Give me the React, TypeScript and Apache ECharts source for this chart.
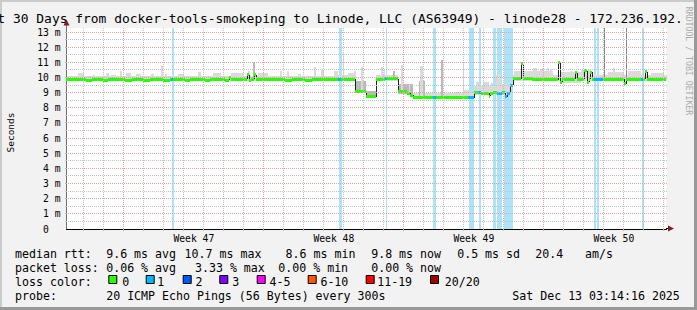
import React, { useEffect, useRef } from 'react';
import * as echarts from 'echarts';

const FONT = "'DejaVu Sans Mono', monospace";
const Y_MAX = 13.27;
const DAYS = 30;
const FIRST_MIDNIGHT = 0.865; // Nov 14 00:00, in days after the window start
const FIRST_WEEK_LINE = 2.865; // Sun Nov 16 00:00

const TITLE = 'Last 30 Days from docker-tools-smokeping to Linode, LLC (AS63949) - linode28 - 172.236.192.';
const WEEK_LABELS = ['Week 47', 'Week 48', 'Week 49', 'Week 50'];
const WEEK_CENTERS = [6.365, 13.365, 20.365, 27.365];
const Y_TICKS = [0, 1, 2, 3, 4, 5, 6, 7, 8, 9, 10, 11, 12, 13];

// median rtt steps: [start day, ms, loss class]
const MEDIAN_STEPS: [number, number, number][] = [
  [0, 9.88, 0], [1.0, 9.82, 0], [1.3, 9.88, 0], [1.85, 9.82, 0], [2.1, 9.88, 0], [2.95, 9.82, 0],
  [3.3, 9.88, 0], [3.85, 9.82, 0], [4.2, 9.88, 0], [4.85, 9.82, 0], [5.2, 9.88, 0], [5.25, 9.88, 1],
  [5.35, 9.88, 0], [5.95, 9.82, 0], [6.2, 9.88, 0], [6.95, 9.82, 0], [7.2, 9.88, 0], [7.95, 9.82, 0],
  [8.15, 9.97, 0], [8.25, 9.88, 0], [9.05, 10.2, 0], [9.15, 9.8, 0], [9.25, 9.88, 0], [9.4, 10.2, 0],
  [9.5, 9.85, 0], [9.95, 9.88, 0], [10.95, 9.82, 0], [11.3, 9.88, 0], [11.95, 9.82, 0], [12.3, 9.88, 0],
  [13.6, 9.9, 1], [13.75, 9.9, 0], [14.45, 9.05, 0], [14.98, 8.72, 0], [15.48, 9.9, 0], [15.95, 9.93, 1],
  [16.03, 9.93, 0], [16.58, 9.05, 0], [17.05, 8.95, 0], [17.2, 8.83, 0], [17.33, 8.7, 0], [18.35, 8.7, 1],
  [18.48, 8.7, 0], [19.7, 8.68, 0], [20.1, 8.66, 1], [20.38, 8.98, 0], [20.6, 9.0, 1], [20.75, 8.96, 0],
  [21.15, 8.75, 0], [21.2, 8.92, 0], [21.35, 9.03, 0], [21.55, 8.96, 1], [21.8, 9.0, 0], [21.88, 9.0, 1],
  [21.95, 8.72, 1], [22.03, 8.96, 1], [22.2, 9.5, 1], [22.33, 9.93, 0], [22.73, 10.9, 0], [22.85, 9.93, 0],
  [23.3, 9.85, 0], [24.58, 11.0, 0], [24.7, 9.7, 0], [24.8, 9.9, 0], [25.43, 10.3, 0], [25.55, 9.9, 0],
  [25.88, 10.45, 0], [26.05, 9.7, 0], [26.15, 9.9, 0], [26.2, 10.35, 0], [26.3, 9.9, 0], [26.38, 9.9, 1],
  [26.85, 9.9, 0], [27.9, 9.6, 0], [28.0, 9.88, 0], [28.75, 9.88, 1], [28.85, 9.88, 0], [28.95, 10.38, 0],
  [29.05, 9.9, 0],
];

// periods with packet loss: [start day, end day]
const LOSS_BARS: [number, number][] = [
  [5.25, 5.37], [13.6, 13.75], [15.95, 16.03], [18.33, 18.47], [20.1, 20.37], [20.6, 20.74],
  [21.33, 21.49], [21.53, 21.75], [21.87, 22.34], [26.37, 26.49], [26.53, 26.64], [28.77, 28.87],
];

// smoke body: [start, end, low ms, high ms, shade]
const SMOKE_BASE: [number, number, number, number, number][] = [
  [0, 13.45, 9.78, 10.12, 0], [13.45, 14.45, 9.78, 10.18, 0], [14.45, 14.98, 8.95, 9.8, 1],
  [14.98, 15.48, 8.62, 9.1, 1], [15.48, 16.58, 9.78, 10.15, 0], [16.58, 17.3, 8.9, 9.55, 1],
  [17.3, 20.38, 8.58, 8.95, 0], [20.38, 22.2, 8.85, 9.45, 0], [22.2, 22.33, 9.3, 9.8, 0],
  [22.33, 30, 9.78, 10.2, 0],
];

// smoke peaks: [start, end, top ms, shade]
const SMOKE_SPIKES: [number, number, number, number][] = [
  [0.55, 0.85, 10.28, 0], [1.33, 1.4, 10.2, 0], [1.95, 2.1, 10.3, 0], [2.2, 2.45, 10.2, 0],
  [2.68, 2.75, 10.4, 0], [2.95, 3.2, 10.3, 0], [3.45, 3.7, 10.25, 0], [4.2, 4.35, 10.25, 0],
  [4.7, 4.8, 10.76, 0], [4.93, 5.0, 10.25, 0], [5.55, 5.85, 10.25, 0], [6.55, 6.7, 10.35, 0],
  [7.3, 7.7, 10.28, 0], [8.2, 8.85, 10.3, 0], [9.08, 9.15, 10.45, 0], [9.33, 9.42, 11.04, 1],
  [9.55, 10.05, 10.3, 0], [10.68, 10.75, 10.4, 0], [11.03, 11.1, 10.4, 0], [11.55, 11.7, 10.25, 0],
  [12.35, 12.45, 10.7, 0], [12.7, 12.85, 10.5, 0], [13.35, 13.55, 10.43, 0], [13.8, 13.85, 11.6, 0],
  [14.05, 14.35, 10.3, 0], [14.35, 14.45, 10.4, 0], [14.7, 14.8, 10.7, 0], [15.7, 15.8, 10.7, 0],
  [15.85, 15.9, 10.5, 0], [16.33, 16.4, 10.4, 1], [16.7, 16.8, 10.8, 0], [17.1, 17.15, 9.6, 0],
  [17.6, 17.9, 9.8, 1], [17.65, 17.8, 10.75, 0], [18.7, 18.8, 11.15, 1], [18.95, 19.1, 8.95, 0],
  [19.35, 19.7, 9.05, 0], [19.8, 19.85, 10.95, 0], [19.85, 20.2, 9.2, 0], [20.45, 20.6, 9.7, 0],
  [20.8, 21.1, 9.7, 0], [21.2, 21.3, 9.65, 0], [21.45, 21.7, 10.2, 0], [21.7, 22.2, 9.6, 0],
  [22.35, 22.85, 10.4, 0], [22.85, 24.3, 10.45, 0], [23.33, 23.4, 10.6, 0], [23.43, 23.5, 10.66, 0],
  [23.68, 23.75, 10.55, 0], [23.78, 23.85, 10.66, 0], [24.03, 24.1, 10.6, 0], [24.18, 24.25, 10.55, 0],
  [24.7, 25.7, 10.35, 0], [25.18, 25.25, 10.45, 0], [25.7, 26.2, 10.5, 0], [26.86, 26.91, 13.27, 2],
  [27.05, 27.85, 10.35, 0], [27.33, 27.4, 10.6, 0], [27.96, 28.01, 13.27, 2], [28.05, 28.7, 10.4, 0],
  [29.2, 29.85, 10.3, 0],
];

const LOSS_COLORS = ['#26ff00', '#00b8ff', '#0059ff', '#7e00ff', '#ff00ff', '#ff5500', '#ff0000', '#a10000'];
const LOSS_NAMES = ['0', '1', '2', '3', '4-5', '6-10', '11-19', '20/20'];
const SHADES = ['#dadada', '#b9b9b9', '#858585'];

const RTT_TEXTS = ['median rtt:', '9.6 ms avg', '10.7 ms max', '8.6 ms min', '9.8 ms now', '0.5 ms sd', '20.4', 'am/s'];
const LOSS_TEXTS = ['packet loss:', '0.06 % avg', '3.33 % max', '0.00 % min', '0.00 % now'];
const PROBE_TEXTS = ['probe:', '20 ICMP Echo Pings (56 Bytes) every 300s', 'Sat Dec 13 03:14:16 2025'];

// layout (pixels)
const RTT_X = [15, 106.2, 184.6, 285.6, 371.2, 457.2, 535.2, 585];
const LOSS_X = [15, 106.2, 195, 278.3, 371.2];
const PROBE_X = [15, 106.2, 512.3];
const BOX_X = [108.3, 145.7, 182.7, 219.3, 256.7, 307.7, 365.7, 430];
const BOX_LABEL_X = [122.2, 157.2, 195.5, 232.2, 269.5, 320.4, 377.2, 444.8];
const LINE_Y = [254.3, 268.2, 282.1, 296];

function medianAt(t: number): number {
  let v = MEDIAN_STEPS[0][1];
  for (const s of MEDIAN_STEPS) if (s[0] <= t) v = s[1];
  return v;
}

export default function App() {
  const ref = useRef<HTMLDivElement>(null);
  useEffect(() => {
    if (!ref.current) return;
    const chart = echarts.init(ref.current, undefined, { renderer: 'svg' });

    const dayLines: number[][] = [];
    for (let d = FIRST_MIDNIGHT; d < DAYS; d += 1) {
      const major = Math.abs(((d - FIRST_WEEK_LINE) % 7 + 7) % 7) < 1e-6 ? 1 : 0;
      dayLines.push([d, major]);
    }
    const hLines: number[][] = [];
    for (let i = 1; i <= 26; i++) hLines.push([0, i / 2, i % 2 === 0 ? 1 : 0]);

    const bandData = MEDIAN_STEPS.map((s, i) => [
      s[0], i + 1 < MEDIAN_STEPS.length ? MEDIAN_STEPS[i + 1][0] : DAYS, s[1], s[2],
    ]);
    const connData = MEDIAN_STEPS.slice(1).map((s, i) => [s[0], MEDIAN_STEPS[i][1], s[1]]);
    const spikeData = SMOKE_SPIKES.map((s) => [s[0], s[1], medianAt(s[0]) - 0.05, s[2], s[3]]);

    const rect = (api: any, t0: number, t1: number, lo: number, hi: number, fill: string) => {
      const a = api.coord([t0, hi]);
      const b = api.coord([t1, lo]);
      const x0 = Math.round(a[0]);
      const x1 = Math.max(x0 + 1, Math.round(b[0]));
      const y0 = Math.round(a[1]);
      const y1 = Math.max(y0 + 1, Math.round(b[1]));
      return { type: 'rect', shape: { x: x0, y: y0, width: x1 - x0, height: y1 - y0 }, style: { fill } };
    };

    const txt = (x: number, y: number, text: string, size = 11.6, extra: any = {}) => ({
      type: 'text', x, y, silent: true,
      style: { text, fontFamily: FONT, fontSize: size, fill: '#000', textAlign: 'left', textVerticalAlign: 'middle', ...extra },
    });

    const graphics: any[] = [
      { type: 'rect', shape: { x: 0, y: 0, width: 697, height: 2 }, style: { fill: '#cbcbcb' }, silent: true },
      { type: 'rect', shape: { x: 0, y: 0, width: 2, height: 310 }, style: { fill: '#cbcbcb' }, silent: true },
      { type: 'rect', shape: { x: 0, y: 307, width: 697, height: 3 }, style: { fill: '#999999' }, silent: true },
      { type: 'rect', shape: { x: 694, y: 0, width: 3, height: 310 }, style: { fill: '#999999' }, silent: true },
      txt(-26, 18.8, TITLE, 12.95),
      {
        type: 'text', x: 689, y: 61, rotation: -Math.PI / 2, silent: true,
        style: { text: 'RRDTOOL / TOBI OETIKER', fontFamily: FONT, fontSize: 8.2, fill: '#ababab', textAlign: 'center', textVerticalAlign: 'middle' },
      },
      {
        type: 'text', x: 10.5, y: 132.5, rotation: Math.PI / 2, silent: true,
        style: { text: 'Seconds', fontFamily: FONT, fontSize: 9.5, fill: '#000', textAlign: 'center', textVerticalAlign: 'middle' },
      },
      // axis extensions and arrows
      { type: 'line', shape: { x1: 66.5, y1: 28, x2: 66.5, y2: 23 }, style: { stroke: '#707070', lineWidth: 1 }, silent: true },
      { type: 'polygon', shape: { points: [[66.5, 19.5], [63.5, 25.5], [69.5, 25.5]] }, style: { fill: '#7f1f1f' }, silent: true },
      { type: 'line', shape: { x1: 666, y1: 228.5, x2: 669, y2: 228.5 }, style: { stroke: '#000', lineWidth: 1 }, silent: true },
      { type: 'polygon', shape: { points: [[674, 228.5], [668, 225.5], [668, 231.5]] }, style: { fill: '#7f1f1f' }, silent: true },
    ];
    RTT_TEXTS.forEach((t, i) => graphics.push(txt(RTT_X[i], LINE_Y[0], t)));
    LOSS_TEXTS.forEach((t, i) => graphics.push(txt(LOSS_X[i], LINE_Y[1], t)));
    graphics.push(txt(15, LINE_Y[2], 'loss color:'));
    LOSS_NAMES.forEach((n, i) => {
      graphics.push({
        type: 'rect', silent: true,
        shape: { x: BOX_X[i] + 0.5, y: 275.5, width: 8, height: 8 },
        style: { fill: LOSS_COLORS[i], stroke: '#000', lineWidth: 1 },
      });
      graphics.push(txt(BOX_LABEL_X[i], LINE_Y[2], n));
    });
    PROBE_TEXTS.forEach((t, i) => graphics.push(txt(PROBE_X[i], LINE_Y[3], t)));

    const option: any = {
      animation: false,
      backgroundColor: '#f2f2f2',
      grid: { left: 66.5, top: 28, width: 600, height: 201, show: true, backgroundColor: '#ffffff', borderWidth: 0 },
      xAxis: {
        type: 'value', min: 0, max: DAYS,
        axisLine: { show: true, lineStyle: { color: '#000', width: 1 } },
        axisTick: { show: false },
        splitLine: { show: false },
        axisLabel: {
          customValues: WEEK_CENTERS,
          formatter: (v: number) => {
            let best = 0;
            WEEK_CENTERS.forEach((c, i) => { if (Math.abs(c - v) < Math.abs(WEEK_CENTERS[best] - v)) best = i; });
            return WEEK_LABELS[best];
          },
          fontFamily: FONT, fontSize: 9.7, color: '#000', margin: 4,
        },
      },
      yAxis: {
        type: 'value', min: 0, max: Y_MAX,
        axisLine: { show: true, lineStyle: { color: '#707070', width: 1 } },
        axisTick: { show: false },
        splitLine: { show: false },
        axisLabel: {
          customValues: Y_TICKS,
          showMaxLabel: true,
          showMinLabel: true,
          formatter: (v: number) => (v === 0 ? '{z|0}' : `${v} m`),
          rich: { z: { fontFamily: FONT, fontSize: 9.7, color: '#000', padding: [0, 11.7, 0, 0] } },
          fontFamily: FONT, fontSize: 9.7, color: '#000', margin: 6,
        },
      },
      series: [
        {
          type: 'custom', name: 'loss', coordinateSystem: 'cartesian2d', silent: true, z: 2,
          data: LOSS_BARS,
          renderItem: (_p: any, api: any) => rect(api, api.value(0), api.value(1), 0, Y_MAX, '#ace3f8'),
        },
        {
          type: 'custom', name: 'smoke', coordinateSystem: 'cartesian2d', silent: true, z: 3,
          data: SMOKE_BASE,
          renderItem: (_p: any, api: any) =>
            rect(api, api.value(0), api.value(1), api.value(2), api.value(3), SHADES[api.value(4)]),
        },
        {
          type: 'custom', name: 'smoke peaks', coordinateSystem: 'cartesian2d', silent: true, z: 4,
          data: spikeData,
          renderItem: (_p: any, api: any) =>
            rect(api, api.value(0), api.value(1), api.value(2), api.value(3), SHADES[api.value(4)]),
        },
        {
          type: 'custom', name: 'median line', coordinateSystem: 'cartesian2d', silent: true, z: 5,
          data: connData,
          renderItem: (_p: any, api: any) => {
            const a = api.coord([api.value(0), api.value(1)]);
            const b = api.coord([api.value(0), api.value(2)]);
            const x = Math.floor(a[0]) + 0.5;
            return { type: 'line', shape: { x1: x, y1: Math.round(a[1]), x2: x, y2: Math.round(b[1]) }, style: { stroke: '#202020', lineWidth: 1 } };
          },
        },
        {
          type: 'custom', name: 'median rtt', coordinateSystem: 'cartesian2d', silent: true, z: 6,
          data: bandData,
          renderItem: (_p: any, api: any) => {
            const a = api.coord([api.value(0), api.value(2)]);
            const b = api.coord([api.value(1), api.value(2)]);
            const x0 = Math.floor(a[0]);
            const x1 = Math.max(x0 + 1, Math.floor(b[0]));
            const y0 = Math.round(a[1] - 1.5);
            return { type: 'rect', shape: { x: x0, y: y0, width: x1 - x0, height: 3 }, style: { fill: LOSS_COLORS[api.value(3)] } };
          },
        },
        {
          type: 'custom', name: 'vgrid', coordinateSystem: 'cartesian2d', silent: true, z: 7,
          data: dayLines,
          renderItem: (_p: any, api: any) => {
            const a = api.coord([api.value(0), Y_MAX]);
            const b = api.coord([api.value(0), 0]);
            const x = Math.floor(a[0]) + 0.5;
            const col = api.value(1) ? '#e3a3a3' : '#c2c2c2';
            return {
              type: 'group', children: [
                { type: 'line', shape: { x1: x, y1: Math.round(a[1]), x2: x, y2: Math.round(b[1]) }, style: { stroke: col, lineWidth: 1, lineDash: [1, 1] } },
                { type: 'line', shape: { x1: x, y1: Math.round(b[1]), x2: x, y2: Math.round(b[1]) + 2 }, style: { stroke: col, lineWidth: 1 } },
              ],
            };
          },
        },
        {
          type: 'custom', name: 'hgrid', coordinateSystem: 'cartesian2d', silent: true, z: 7,
          data: hLines,
          renderItem: (_p: any, api: any) => {
            const a = api.coord([0, api.value(1)]);
            const b = api.coord([DAYS, api.value(1)]);
            const y = Math.floor(a[1]) + 0.5;
            const col = api.value(2) ? '#e3a3a3' : '#c2c2c2';
            return {
              type: 'group', children: [
                { type: 'line', shape: { x1: Math.round(a[0]) + 1, y1: y, x2: Math.round(b[0]), y2: y }, style: { stroke: col, lineWidth: 1, lineDash: [1, 1] } },
                { type: 'line', shape: { x1: Math.round(a[0]) - 2, y1: y, x2: Math.round(a[0]), y2: y }, style: { stroke: col, lineWidth: 1 } },
              ],
            };
          },
        },
      ],
      graphic: graphics,
    };
    chart.setOption(option);
    return () => chart.dispose();
  }, []);

  return (
    <div
      ref={ref}
      style={{ position: 'fixed', left: 0, top: 0, width: 697, height: 310 }}
    />
  );
}
